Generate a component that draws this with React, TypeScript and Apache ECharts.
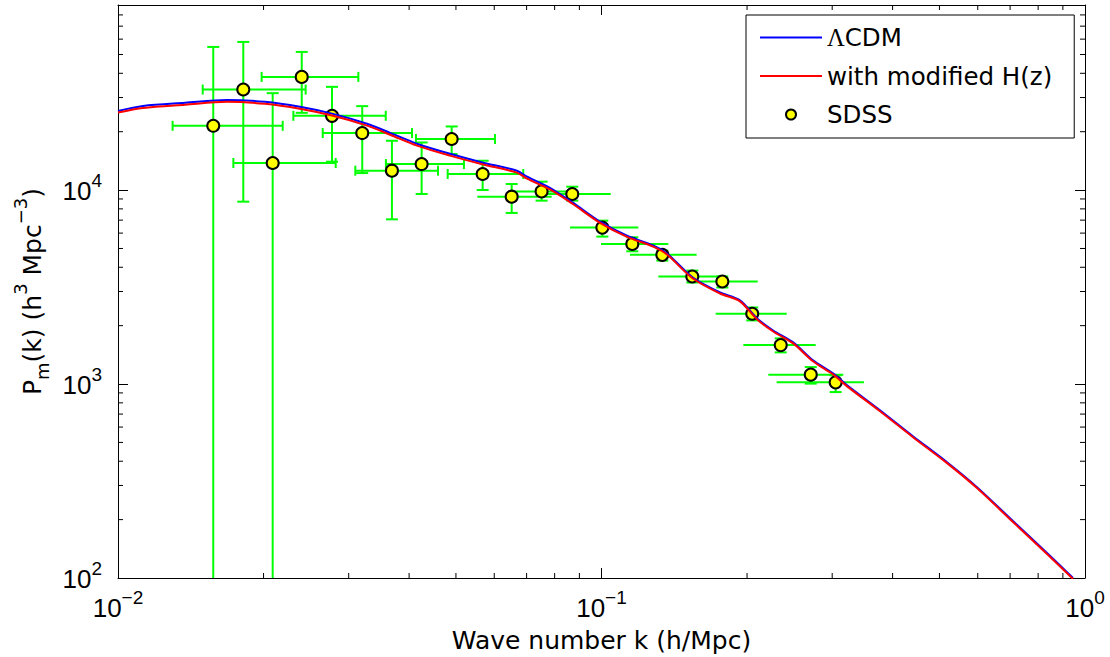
import React, { useEffect, useRef } from "react";
import * as echarts from "echarts";

// Theory curves (k in h/Mpc, P in h^-3 Mpc^3)
const curveK = [0.01, 0.01127, 0.01377, 0.01679, 0.02013, 0.02377, 0.02784, 0.03273, 0.03654, 0.04153, 0.0486, 0.0569, 0.06686, 0.07015, 0.07822, 0.08723, 0.09929, 0.1129, 0.1279, 0.1366, 0.1545, 0.1758, 0.1933, 0.2099, 0.2265, 0.2491, 0.2738, 0.3011, 0.3221, 0.3767, 0.4408, 0.5184, 0.5978, 0.7097, 0.8345, 0.9445];
const lcdmP = [25600, 27150, 28200, 29170, 28500, 26860, 24720, 21980, 19730, 17340, 15380, 13840, 12590, 11720, 10280, 8610, 6870, 5820, 5180, 4710, 3540, 2965, 2700, 2178, 1888, 1641, 1325, 1135, 985, 732, 538, 395, 294, 196.6, 134.5, 100];
const modP = [25100, 26500, 27550, 28500, 27850, 26250, 24150, 21500, 19300, 16950, 15050, 13550, 12300, 11450, 10080, 8480, 6780, 5740, 5110, 4650, 3500, 2930, 2670, 2150, 1865, 1620, 1310, 1122, 973, 724, 532, 391, 291, 194.5, 133, 98.8];

// SDSS measurements with error bars
const sdssK = [0.01574, 0.01816, 0.02089, 0.02399, 0.02771, 0.032, 0.03686, 0.04246, 0.04899, 0.05678, 0.0652, 0.07518, 0.087, 0.1004, 0.1158, 0.1336, 0.1541, 0.1778, 0.205, 0.2348, 0.2709, 0.305];
const sdssP = [21450, 32990, 13790, 38330, 24150, 19680, 12590, 13620, 18330, 12100, 9247, 9847, 9547, 6406, 5279, 4634, 3584, 3378, 2303, 1588, 1118, 1020];
const kLow = [0.01297, 0.01497, 0.01732, 0.01982, 0.02305, 0.02651, 0.03096, 0.03582, 0.04133, 0.04807, 0.05535, 0.0657, 0.07568, 0.08606, 0.09977, 0.1145, 0.1311, 0.151, 0.1722, 0.1965, 0.2213, 0.2303];
const kHigh = [0.02191, 0.02444, 0.0282, 0.03141, 0.03579, 0.04056, 0.0459, 0.05194, 0.06021, 0.0689, 0.07888, 0.08941, 0.1045, 0.1192, 0.1375, 0.1573, 0.1815, 0.2104, 0.2416, 0.2773, 0.3163, 0.349];
const pLow = [0, 8715, 0, 25020, 14010, 12240, 7067, 9547, 15340, 10010, 7624, 8820, 8820, 5757, 4836, 4330, 3337, 3146, 2128, 1456, 1005, 909];
const pHigh = [54700, 58050, 31600, 51560, 34060, 27090, 17960, 17600, 21280, 14170, 10750, 11050, 10410, 6958, 5709, 4877, 3847, 3584, 2482, 1719, 1223, 1109];

// Axis ranges and minor tick positions
const xRange = [0.01, 1];
const yRange = [100, 90000];
const xMinorTicks = [0.02, 0.03, 0.04, 0.05, 0.06, 0.07, 0.08, 0.09, 0.2, 0.3, 0.4, 0.5, 0.6, 0.7, 0.8, 0.9];
const yMinorTicks = [200, 300, 400, 500, 600, 700, 800, 900, 2000, 3000, 4000, 5000, 6000, 7000, 8000, 9000, 20000, 30000, 40000, 50000, 60000, 70000, 80000];

const FONT = "Liberation Sans, Arial, Helvetica, sans-serif";
const WFONT = "DejaVu Sans, Liberation Sans, sans-serif";

const powLabel = (v: number) => {
  const e = Math.log10(v);
  const r = Math.round(e);
  if (Math.abs(e - r) > 1e-6) return "";
  const s = r < 0 ? "\u2212" + -r : String(r);
  return `{b|10}{s|${s}}`;
};

const labelRich = {
  b: { fontSize: 26, fontFamily: FONT, color: "#000", verticalAlign: "bottom", padding: [0, 0, 6, 0] },
  s: { fontSize: 19, fontFamily: FONT, color: "#000", verticalAlign: "bottom", padding: [0, 0, 20, 0] },
};

export default function App() {
  const ref = useRef<HTMLDivElement>(null);
  useEffect(() => {
    const chart = echarts.init(ref.current!, null, { renderer: "svg" });
    const axisCommon = {
      type: "log",
      logBase: 10,
      splitLine: { show: false },
      axisLine: { show: true, lineStyle: { color: "#000", width: 1 } },
      axisTick: { show: true, inside: true, length: 10, lineStyle: { color: "#000", width: 1 } },
    };
    const option: any = {
      animation: false,
      backgroundColor: "#fff",
      textStyle: { fontFamily: FONT },
      grid: { left: 118, right: 25, top: 5, bottom: 79, outerBoundsMode: "none", containLabel: false },
      xAxis: [
        {
          ...axisCommon,
          position: "bottom",
          min: xRange[0],
          max: xRange[1],
          name: "Wave number k (h/Mpc)",
          nameLocation: "middle",
          nameGap: 50,
          nameTextStyle: { fontSize: 25, fontFamily: WFONT, color: "#000" },
          axisLabel: { show: true, margin: 10, formatter: powLabel, rich: labelRich, color: "#000" },
        },
        {
          ...axisCommon,
          position: "top",
          min: xRange[0],
          max: xRange[1],
          axisLabel: { show: false },
        },
      ],
      yAxis: [
        {
          ...axisCommon,
          position: "left",
          min: yRange[0],
          max: yRange[1],
          name: "{t|P}{sub|m}{t|(k) (h}{sup|3}{t| Mpc}{sup|\u22123}{t|)}",
          nameLocation: "middle",
          nameGap: 66,
          nameTextStyle: {
            fontSize: 25,
            fontFamily: WFONT,
            color: "#000",
            rich: {
              t: { fontSize: 25, fontFamily: WFONT, color: "#000", verticalAlign: "bottom", padding: [0, 0, 7, 0] },
              sub: { fontSize: 18, fontFamily: WFONT, color: "#000", verticalAlign: "bottom", padding: [0, 0, 0, 0] },
              sup: { fontSize: 18, fontFamily: WFONT, color: "#000", verticalAlign: "bottom", padding: [0, 0, 22, 0] },
            },
          },
          axisLabel: { show: true, margin: 16, formatter: powLabel, rich: labelRich, color: "#000" },
        },
        {
          ...axisCommon,
          position: "right",
          min: yRange[0],
          max: yRange[1],
          axisLabel: { show: false },
        },
      ],
      legend: {
        show: true,
        orient: "vertical",
        left: 746,
        top: 15,
        itemWidth: 62,
        itemHeight: 10,
        itemGap: 13.5,
        padding: [10, 22, 11, 13],
        borderColor: "#000",
        borderWidth: 1,
        backgroundColor: "#fff",
        selectedMode: false,
        data: [
          { name: "\u039bCDM", itemStyle: { opacity: 0 } },
          { name: "with modified H(z)", itemStyle: { opacity: 0 } },
          { name: "SDSS" },
        ],
        formatter: (name: string) => (name === "\u039bCDM" ? "{g|\u039b}CDM" : name),
        textStyle: {
          fontSize: 24.5,
          fontFamily: WFONT,
          color: "#000",
          rich: { g: { fontSize: 24.5, fontFamily: "Liberation Serif, serif", color: "#000" } },
        },
      },
      series: [
        {
          type: "custom",
          name: "xminor",
          silent: true,
          clip: false,
          data: xMinorTicks.map((v) => [v, 1000]),
          renderItem: (params: any, api: any) => {
            const cs = params.coordSys;
            const x = api.coord([api.value(0), 1000])[0];
            const st = { stroke: "#000", lineWidth: 1 };
            return {
              type: "group",
              children: [
                { type: "line", shape: { x1: x, y1: cs.y + cs.height, x2: x, y2: cs.y + cs.height - 5 }, style: st },
                { type: "line", shape: { x1: x, y1: cs.y, x2: x, y2: cs.y + 5 }, style: st },
              ],
            };
          },
        },
        {
          type: "custom",
          name: "yminor",
          silent: true,
          clip: false,
          data: yMinorTicks.map((v) => [0.1, v]),
          renderItem: (params: any, api: any) => {
            const cs = params.coordSys;
            const y = api.coord([0.1, api.value(1)])[1];
            const st = { stroke: "#000", lineWidth: 1 };
            return {
              type: "group",
              children: [
                { type: "line", shape: { x1: cs.x, y1: y, x2: cs.x + 5, y2: y }, style: st },
                { type: "line", shape: { x1: cs.x + cs.width - 5, y1: y, x2: cs.x + cs.width, y2: y }, style: st },
              ],
            };
          },
        },
        {
          type: "line",
          name: "\u039bCDM",
          symbol: "none",
          smooth: 0.3,
          clip: true,
          lineStyle: { color: "#0000ff", width: 2 },
          itemStyle: { color: "#0000ff" },
          data: curveK.map((k, i) => [k, lcdmP[i]]),
        },
        {
          type: "line",
          name: "with modified H(z)",
          symbol: "none",
          smooth: 0.3,
          clip: true,
          lineStyle: { color: "#ff0000", width: 2 },
          itemStyle: { color: "#ff0000" },
          data: curveK.map((k, i) => [k, modP[i]]),
        },
        {
          type: "custom",
          name: "SDSS errors",
          clip: true,
          silent: true,
          data: sdssK.map((k, i) => [k, sdssP[i], kLow[i], kHigh[i], pLow[i], pHigh[i]]),
          renderItem: (params: any, api: any) => {
            const cs = params.coordSys;
            const k = api.value(0);
            const p = api.value(1);
            const kl = api.value(2);
            const kh = api.value(3);
            const pl = api.value(4);
            const ph = api.value(5);
            const c = api.coord([k, p]);
            const xl = api.coord([kl, p])[0];
            const xh = api.coord([kh, p])[0];
            const yh = api.coord([k, ph])[1];
            const yl = pl > 0 ? api.coord([k, pl])[1] : cs.y + cs.height + 5;
            const st = { stroke: "#00ff00", lineWidth: 2 };
            const ch: any[] = [
              { type: "line", shape: { x1: xl, y1: c[1], x2: xh, y2: c[1] }, style: st },
              { type: "line", shape: { x1: c[0], y1: yh, x2: c[0], y2: yl }, style: st },
              { type: "line", shape: { x1: c[0] - 6, y1: yh, x2: c[0] + 6, y2: yh }, style: st },
            ];
            if (pl > 0) ch.push({ type: "line", shape: { x1: c[0] - 6, y1: yl, x2: c[0] + 6, y2: yl }, style: st });
            if (p >= 10000) {
              ch.push({ type: "line", shape: { x1: xl, y1: c[1] - 5, x2: xl, y2: c[1] + 5 }, style: st });
              ch.push({ type: "line", shape: { x1: xh, y1: c[1] - 5, x2: xh, y2: c[1] + 5 }, style: st });
            }
            return { type: "group", children: ch };
          },
        },
        {
          type: "scatter",
          name: "SDSS",
          symbol: "circle",
          symbolSize: 12,
          itemStyle: { color: "#ffff00", borderColor: "#000", borderWidth: 2, opacity: 1 },
          data: sdssK.map((k, i) => [k, sdssP[i]]),
        },
      ],
    };
    chart.setOption(option);
    return () => chart.dispose();
  }, []);
  return (
    <div
      ref={ref}
      style={{ position: "absolute", left: 0, top: 0, width: 1110, height: 657, background: "#fff" }}
    />
  );
}
